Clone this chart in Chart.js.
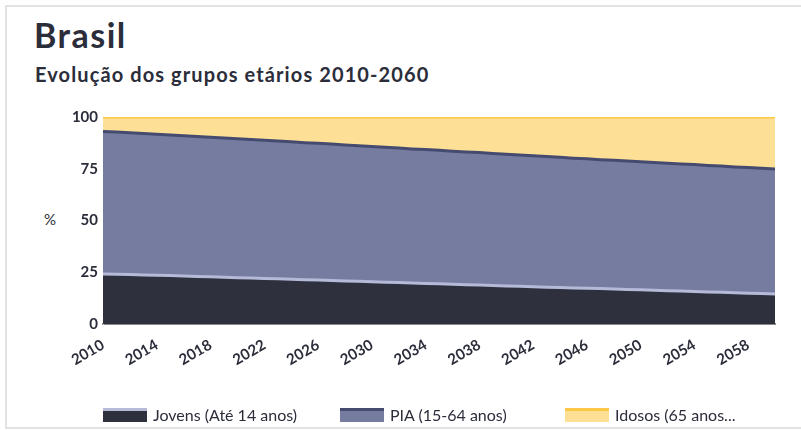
<!DOCTYPE html>
<html><head><meta charset="utf-8">
<script src="https://cdn.jsdelivr.net/npm/chart.js@4.4.0/dist/chart.umd.min.js"></script>
<style>
html,body{margin:0;padding:0;background:#fff;width:801px;height:430px;overflow:hidden;font-family:Lato,sans-serif;color:#2b2d3a}
#frame{position:absolute;left:5px;top:5px;width:805px;height:424px;border:2px solid #e2e2e2;box-sizing:border-box}
#t1{position:absolute;left:34px;top:14px;font-size:34px;font-weight:700;letter-spacing:1.5px}
#t2{position:absolute;left:35px;top:62px;font-size:20px;font-weight:700;letter-spacing:1.1px}
#pct{position:absolute;left:44px;top:210px;font-size:15px}
#cv{position:absolute;left:0;top:0}
#legend{position:absolute;top:405px;left:0;font-size:16px}
.li{position:absolute;display:flex;align-items:center;white-space:nowrap}
.sw{width:44px;height:11px;border-top:3px solid;margin-right:6px}
</style></head><body>
<div id="frame"></div>
<div id="t1">Brasil</div>
<div id="t2">Evolução dos grupos etários 2010-2060</div>
<div id="pct">%</div>
<canvas id="cv" width="801" height="430"></canvas>
<div id="legend"></div>
<script>
const years = [];
for (let y = 2010; y <= 2060; y++) years.push(String(y));
const seriesNames = ['Jovens (Até 14 anos)', 'PIA (15-64 anos)', 'Idosos (65 anos...'];
const jovens = [24.2,24.0,23.9,23.7,23.5,23.4,23.2,23.0,22.8,22.6,22.4,22.2,22.0,21.8,21.6,21.4,21.2,21.0,20.8,20.6,20.4,20.2,20.0,19.8,19.6,19.4,19.2,19.0,18.8,18.6,18.4,18.2,18.0,17.8,17.6,17.4,17.3,17.1,16.9,16.7,16.5,16.3,16.1,15.9,15.7,15.5,15.3,15.1,14.9,14.7,14.5];
const pia = [68.8,68.7,68.5,68.3,68.2,67.9,67.8,67.6,67.4,67.3,67.1,66.9,66.8,66.6,66.4,66.2,66.1,65.9,65.7,65.5,65.4,65.2,65.0,64.8,64.7,64.5,64.3,64.1,64.0,63.8,63.6,63.4,63.3,63.1,62.9,62.7,62.5,62.3,62.2,62.0,61.9,61.7,61.6,61.4,61.3,61.1,61.0,60.8,60.7,60.5,60.4];
const idosos = [7.0,7.3,7.6,8.0,8.3,8.7,9.0,9.4,9.8,10.1,10.5,10.9,11.2,11.6,12.0,12.4,12.7,13.1,13.5,13.9,14.2,14.6,15.0,15.4,15.7,16.1,16.5,16.9,17.2,17.6,18.0,18.4,18.7,19.1,19.5,19.9,20.2,20.6,20.9,21.3,21.6,22.0,22.3,22.7,23.0,23.4,23.7,24.1,24.4,24.8,25.1];
const yTicks = [0, 25, 50, 75, 100];
const xTickStep = 4;

const fills = ['#2e303e', '#767c9f', '#fddf95'];
const lines = ['#b4bad8', '#454b70', '#fbc947'];
const values = [jovens, pia, idosos];

const datasets = values.map((v, i) => ({
  label: seriesNames[i], data: v,
  backgroundColor: fills[i], borderColor: lines[i], borderWidth: 3,
  fill: i === 0 ? 'origin' : '-1', pointRadius: 0, tension: 0
}));

const tickColor = '#2b2d3a';
new Chart(document.getElementById('cv'), {
  type: 'line',
  data: { labels: years, datasets },
  options: {
    responsive: false, animation: false,
    layout: { padding: { left: 40, top: 117, right: 26, bottom: 48 } },
    plugins: { legend: { display: false }, tooltip: { enabled: false } },
    scales: {
      x: {
        grid: { display: false, tickLength: 8 },
        border: { display: true, color: '#8a8a8a', width: 2 },
        ticks: {
          autoSkip: false, maxRotation: 30, minRotation: 30, padding: 4,
          color: tickColor, font: { family: 'Lato', size: 15, weight: 700 },
          callback: function (val, idx) { return idx % xTickStep === 0 && idx < years.length - 1 ? years[idx] : ''; }
        },
        afterFit: s => { s.height = 58; }
      },
      y: {
        stacked: true, min: 0, max: 100,
        afterBuildTicks: s => { s.ticks = yTicks.map(v => ({ value: v })); },
        grid: { display: false, drawTicks: false, tickLength: 0 },
        border: { display: true, color: '#dedede', width: 1 },
        ticks: { color: tickColor, padding: 5, font: { family: 'Lato', size: 15, weight: 700 } },
        afterFit: s => { s.width = 63; }
      }
    }
  }
});

const lg = document.getElementById('legend');
const legendX = [103, 340, 565];
seriesNames.forEach((n, i) => {
  const d = document.createElement('div');
  d.className = 'li'; d.style.left = legendX[i] + 'px';
  d.innerHTML = '<span class="sw" style="background:' + fills[i] + ';border-color:' + lines[i] + '"></span><span>' + n + '</span>';
  lg.appendChild(d);
});
</script>
</body></html>
